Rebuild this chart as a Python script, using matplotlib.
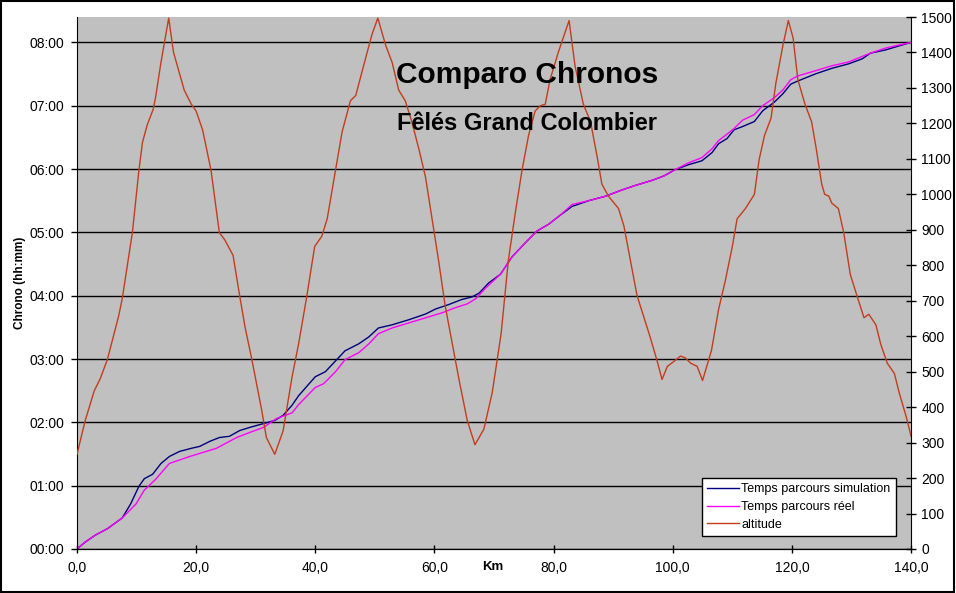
import matplotlib
matplotlib.use("Agg")
import matplotlib.pyplot as plt
from matplotlib.ticker import FuncFormatter, MultipleLocator
from matplotlib.patches import Rectangle

plt.rcParams['font.family'] = ['Liberation Sans', 'DejaVu Sans']

# Altitude profile (km, m)
alt_km = [0, 1.4, 2.9, 3.9, 5.1, 7.0, 7.6, 9.3, 10.4, 11.0, 11.8, 12.8, 13.2, 14.1, 14.9, 15.4,
          16.2, 18.0, 19.2, 20.0, 21.1, 22.5, 23.9, 24.8, 26.2, 27.3, 28.2, 29.3, 30.1, 31.0, 31.8,
          33.2, 34.6, 36.1, 37.2, 38.6, 39.9, 41.1, 42.0, 43.4, 44.5, 45.9, 46.8, 48.1, 49.5, 50.5,
          51.8, 52.9, 54.0, 55.1, 56.2, 57.4, 58.5, 59.6, 60.7, 61.8, 63.0, 64.1, 65.5, 66.8, 68.3,
          69.7, 71.2, 72.4, 73.6, 74.7, 75.8, 76.9, 77.8, 78.6, 79.4, 80.8, 82.0, 82.6, 83.6, 85.0,
          86.2, 87.3, 88.1, 89.2, 90.9, 91.8, 92.9, 94.0, 95.1, 96.2, 97.4, 98.2, 99.1, 100.2, 101.3,
          102.1, 103.0, 104.1, 105.0, 106.5, 107.7, 108.8, 110.0, 110.8, 112.2, 113.7, 114.5, 115.4,
          116.5, 117.3, 118.5, 119.4, 120.2, 121.0, 122.2, 123.3, 124.1, 125.0, 125.5, 126.2, 126.7,
          127.8, 128.7, 129.8, 130.9, 132.1, 132.9, 134.1, 134.9, 136.0, 137.2, 138.0, 139.2, 140.0]
alt_m = [267, 363, 446, 480, 534, 657, 706, 892, 1068, 1147, 1196, 1240, 1274, 1372, 1450, 1497,
         1401, 1294, 1254, 1235, 1181, 1068, 892, 872, 828, 715, 627, 539, 470, 392, 314,
         267, 333, 485, 578, 715, 853, 882, 931, 1068, 1176, 1264, 1279, 1362, 1450, 1497,
         1421, 1372, 1294, 1264, 1205, 1127, 1049, 931, 813, 686, 578, 480, 363, 294, 338,
         441, 608, 813, 951, 1068, 1166, 1235, 1250, 1254, 1323, 1401, 1460, 1490, 1362, 1254,
         1205, 1107, 1029, 995, 960, 911, 813, 715, 657, 598, 529, 478, 515, 529, 544,
         539, 524, 515, 475, 560, 676, 755, 853, 931, 960, 1000, 1098, 1166,
         1215, 1313, 1421, 1490, 1441, 1323, 1254, 1205, 1127, 1029, 1000, 995, 975,
         960, 892, 774, 715, 652, 662, 632, 578, 524, 495, 441, 372, 318]

# Simulated time (km, hours)
sim_km = [0, 1.4, 3.1, 5.1, 7.6, 9.0, 10.4, 11.3, 12.7, 14.1, 15.5, 17.2, 19.2, 20.6, 22.3, 23.9,
          25.6, 27.3, 29.0, 31.3, 33.2, 34.6, 36.1, 37.2, 40.0, 41.7, 43.4, 45.0, 47.3, 49.0, 50.6,
          52.9, 55.7, 58.5, 60.2, 62.4, 64.6, 66.3, 67.5, 69.1, 71.1, 73.0, 75.2, 77.2, 79.2, 81.1,
          83.1, 85.9, 88.7, 91.5, 93.7, 96.5, 98.5, 100.4, 102.7, 104.9, 106.6, 107.7, 109.1, 110.3,
          111.7, 113.7, 115.1, 117.1, 118.5, 119.8, 121.0, 123.9, 126.7, 129.5, 131.8, 133.2, 135.7, 140.0]
sim_h = [0, 0.11, 0.22, 0.32, 0.49, 0.71, 0.99, 1.11, 1.18, 1.35, 1.46, 1.54, 1.59, 1.62, 1.70, 1.76,
         1.78, 1.87, 1.92, 1.98, 2.03, 2.11, 2.27, 2.42, 2.72, 2.80, 2.97, 3.13, 3.24, 3.35, 3.49,
         3.54, 3.62, 3.71, 3.79, 3.86, 3.94, 3.98, 4.04, 4.20, 4.34, 4.61, 4.83, 5.02, 5.13, 5.27,
         5.41, 5.50, 5.57, 5.67, 5.74, 5.82, 5.89, 5.99, 6.07, 6.13, 6.26, 6.40, 6.48, 6.62,
         6.67, 6.75, 6.92, 7.06, 7.19, 7.34, 7.39, 7.50, 7.59, 7.66, 7.74, 7.83, 7.88, 8.00]

# Real time (km, hours)
real_km = [0, 1.4, 3.1, 5.1, 7.6, 9.9, 11.3, 13.2, 15.5, 18.9, 23.4, 26.8, 29.0, 31.3, 33.5, 36.1,
           37.2, 40.0, 41.4, 43.4, 45.0, 47.3, 49.0, 50.6, 52.9, 55.7, 58.5, 61.3, 63.5, 65.5, 66.9,
           68.6, 71.1, 73.0, 75.2, 77.2, 79.2, 81.1, 83.1, 85.9, 88.7, 91.5, 93.7, 96.5, 98.5, 100.4,
           102.7, 104.9, 106.6, 107.7, 109.1, 110.3, 111.7, 113.7, 115.1, 117.1, 118.5, 119.8, 121.0,
           123.9, 126.7, 129.5, 133.2, 135.7, 140.0]
real_h = [0, 0.11, 0.22, 0.32, 0.49, 0.71, 0.93, 1.10, 1.35, 1.46, 1.59, 1.76, 1.84, 1.92, 2.06, 2.15,
          2.28, 2.55, 2.61, 2.80, 2.99, 3.10, 3.24, 3.40, 3.49, 3.57, 3.65, 3.73, 3.81, 3.87, 3.95,
          4.12, 4.34, 4.61, 4.83, 5.02, 5.13, 5.27, 5.44, 5.50, 5.57, 5.67, 5.74, 5.82, 5.89, 5.99,
          6.10, 6.18, 6.32, 6.45, 6.55, 6.64, 6.77, 6.86, 7.00, 7.13, 7.25, 7.41, 7.47,
          7.55, 7.63, 7.69, 7.83, 7.91, 8.00]

x_ticks = [0, 20, 40, 60, 80, 100, 120, 140]
title = "Comparo Chronos"
subtitle = "Fêlés Grand Colombier"
labels = ["Temps parcours simulation", "Temps parcours réel", "altitude"]

c_sim = '#000080'
c_real = '#FF00FF'
c_alt = '#C43C1C'

fig = plt.figure(figsize=(9.56, 5.93), dpi=100)
fig.patch.set_facecolor('white')
fig.patches.append(Rectangle((0.001, 0.002), 0.997, 0.996, transform=fig.transFigure,
                             fill=False, edgecolor='black', linewidth=1.5))

ax = fig.add_axes([0.0805, 0.0742, 0.8725, 0.8971])
ax.set_facecolor('#C0C0C0')
ax.set_xlim(0, 140)
ax.set_ylim(0, 8.4)
ax.yaxis.set_major_locator(MultipleLocator(1))
ax.yaxis.set_major_formatter(FuncFormatter(lambda v, p: "%02d:%02d" % (int(round(v * 60)) // 60, int(round(v * 60)) % 60)))
ax.set_xticks(x_ticks)
ax.set_xticklabels([("%.1f" % v).replace('.', ',') for v in x_ticks])
ax.grid(axis='y', color='black', linewidth=1.0)
ax.set_axisbelow(True)
ax.spines['top'].set_visible(False)
ax.spines['right'].set_visible(False)
ax.tick_params(axis='y', direction='out', length=4, width=1, labelsize=10, pad=5)
ax.tick_params(axis='x', direction='inout', length=6, width=1, labelsize=10, pad=6)

l1, = ax.plot(sim_km, sim_h, color=c_sim, linewidth=1.0)
l2, = ax.plot(real_km, real_h, color=c_real, linewidth=1.0)

ax2 = ax.twinx()
ax2.set_ylim(0, 1500)
ax2.yaxis.set_major_locator(MultipleLocator(100))
ax2.spines['top'].set_visible(False)
ax2.spines['left'].set_visible(False)
ax2.tick_params(axis='y', direction='inout', length=7, width=1, labelsize=10, pad=4)
l3, = ax2.plot(alt_km, alt_m, color=c_alt, linewidth=1.0)

ax.set_ylabel("Chrono (hh:mm)", fontsize=8.5, fontweight='bold')
ax.yaxis.set_label_coords(-0.061, 0.5)
ax.set_xlabel("Km", fontsize=9.5, fontweight='bold')
ax.xaxis.set_label_coords(0.498, -0.023)

fig.text(527 / 956, 1 - 75 / 593, title, fontsize=21.5, fontweight='bold', ha='center', va='center')
fig.text(527 / 956, 1 - 123 / 593, subtitle, fontsize=17, fontweight='bold', ha='center', va='center')

leg = ax2.legend([l1, l2, l3], labels, loc='lower right', bbox_to_anchor=(0.982, 0.024),
                 fontsize=9.0, frameon=True, fancybox=False, shadow=False, framealpha=1,
                 edgecolor='black', handlelength=2.5, handletextpad=0.2, borderpad=0.45,
                 labelspacing=0.45, borderaxespad=0)
leg.get_frame().set_linewidth(1.0)

fig.savefig("out.png", dpi=100, facecolor='white')
